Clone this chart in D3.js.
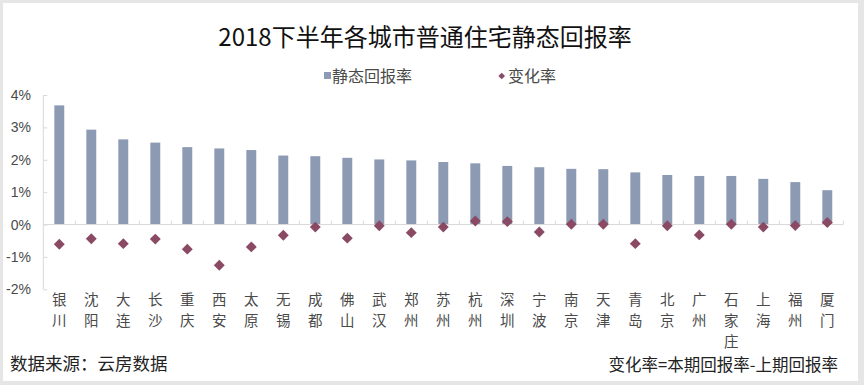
<!DOCTYPE html>
<html><head><meta charset="utf-8">
<script src="https://cdn.jsdelivr.net/npm/d3@7/dist/d3.min.js"></script>
<style>
html,body{margin:0;padding:0;background:#fff;}
svg{display:block;font-family:"Noto Sans CJK SC","Noto Sans",sans-serif;}
</style></head>
<body>
<svg id="c" width="864" height="385"></svg>
<script>
const cities = ["银川","沈阳","大连","长沙","重庆","西安","太原","无锡","成都","佛山","武汉","郑州","苏州","杭州","深圳","宁波","南京","天津","青岛","北京","广州","石家庄","上海","福州","厦门"];
const staticReturn = [3.68,2.93,2.63,2.53,2.39,2.35,2.30,2.13,2.11,2.06,2.01,1.98,1.93,1.89,1.81,1.77,1.72,1.71,1.61,1.53,1.50,1.50,1.41,1.31,1.06];
const changeRate = [-0.61,-0.44,-0.59,-0.45,-0.76,-1.26,-0.69,-0.33,-0.08,-0.42,-0.04,-0.25,-0.08,0.11,0.09,-0.23,0.01,0.01,-0.59,-0.04,-0.32,0.01,-0.08,-0.03,0.06];
const yTicks = [-2,-1,0,1,2,3,4];
const title = "2018下半年各城市普通住宅静态回报率";
const legendLabels = ["静态回报率","变化率"];
const sourceNote = "数据来源：云房数据";
const formulaNote = "变化率=本期回报率-上期回报率";

const svg = d3.select("#c");
const barColor = "#8d9ab3", dotColor = "#8b4a64", axisColor = "#d9d9d9", textColor = "#4a4a4a";

// frame
svg.append("rect").attr("x",0).attr("y",0).attr("width",864).attr("height",385).attr("fill","#e6e6e6");
svg.append("rect").attr("x",3).attr("y",3).attr("width",855).attr("height",378).attr("fill","#fff");

const x = d3.scaleBand().domain(cities).range([43.3,843.3]).padding(0);
const y = d3.scaleLinear().domain([-2,4]).range([289.3,95]);
const bw = x.bandwidth(), barW = bw*0.31;

// title
svg.append("text").attr("x",425).attr("y",46).attr("text-anchor","middle")
  .attr("font-size",24).attr("fill","#111").text(title);

// legend
svg.append("rect").attr("x",324).attr("y",72).attr("width",7).attr("height",7).attr("fill",barColor);
svg.append("text").attr("x",332).attr("y",82).attr("font-size",16).attr("fill",textColor).text(legendLabels[0]);
svg.append("path").attr("d",d3.symbol(d3.symbolSquare, 22)())
  .attr("transform","translate(501.7,76) rotate(45)").attr("fill",dotColor);
svg.append("text").attr("x",508).attr("y",82).attr("font-size",16).attr("fill",textColor).text(legendLabels[1]);

// y axis
const yAxis = d3.axisRight(y).tickValues(yTicks).tickSize(4).tickFormat(()=>"");
const ya = svg.append("g").attr("transform","translate(43.3,0)").call(yAxis);
ya.selectAll("path,line").attr("stroke",axisColor);
ya.select(".domain").attr("d",`M0,${y(4)}V${y(-2)}`);
svg.append("g").selectAll("text").data(yTicks).join("text")
  .attr("x",31).attr("y",d=>y(d)+5).attr("text-anchor","end").attr("font-size",14)
  .attr("font-family","Liberation Sans, Arial, sans-serif").attr("fill",textColor)
  .text(d=>d+"%");

// bars
svg.append("g").selectAll("rect").data(cities).join("rect")
  .attr("x",(c)=>x(c)+(bw-barW)/2).attr("width",barW)
  .attr("y",(c,i)=>y(staticReturn[i])).attr("height",(c,i)=>y(0)-y(staticReturn[i]))
  .attr("fill",barColor);

// x axis line at zero with ticks between categories
const xa = svg.append("g");
xa.append("line").attr("x1",43.3).attr("x2",843.3).attr("y1",y(0)).attr("y2",y(0)).attr("stroke",axisColor);
xa.selectAll("line.t").data(cities).join("line").attr("class","t")
  .attr("x1",c=>x(c)+bw).attr("x2",c=>x(c)+bw).attr("y1",y(0)).attr("y2",y(0)-4).attr("stroke",axisColor);

// diamonds
const diamond = d3.symbol(d3.symbolSquare, 60)();
svg.append("g").selectAll("path").data(cities).join("path")
  .attr("d",diamond)
  .attr("transform",(c,i)=>`translate(${x(c)+bw/2},${y(changeRate[i])}) rotate(45)`)
  .attr("fill",dotColor);

// category labels (vertical)
const lab = svg.append("g").selectAll("text").data(cities).join("text")
  .attr("x",c=>x(c)+bw/2).attr("y",305).attr("text-anchor","middle")
  .attr("font-size",14.5).attr("fill",textColor);
lab.each(function(c){
  const t = d3.select(this);
  Array.from(c).forEach((ch,k)=>{
    t.append("tspan").attr("x",x(c)+bw/2).attr("y",305+k*21).text(ch);
  });
});

// notes
svg.append("text").attr("x",10).attr("y",370).attr("font-size",17.5).attr("fill","#222").text(sourceNote);
svg.append("text").attr("x",838).attr("y",371).attr("text-anchor","end").attr("font-size",16.5).attr("fill","#222").text(formulaNote);
</script>
</body></html>
